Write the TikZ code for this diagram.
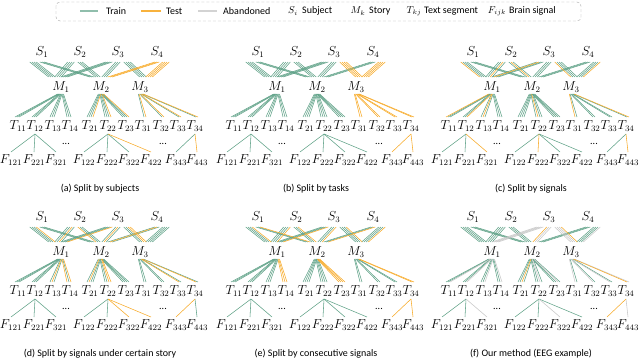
\documentclass[tikz,border=0pt]{standalone}
\usepackage{fix-cm}
\usepackage[no-math]{fontspec}
\setmainfont{Carlito}
\usetikzlibrary{calc,positioning}
\DeclareMathSizes{13}{13}{8.4}{6}
\DeclareMathSizes{10}{10}{6.6}{5}

\definecolor{traincol}{RGB}{96,162,136}
\definecolor{testcol}{RGB}{247,170,40}
\definecolor{gonecol}{RGB}{200,200,200}

\tikzset{
  lab/.style={inner sep=0pt, font=\fontsize{13}{14}\selectfont},
  leglab/.style={inner sep=0pt, anchor=west, font=\fontsize{10}{12}\selectfont},
  legmath/.style={inner sep=0pt, font=\fontsize{10}{12}\selectfont},
  captext/.style={font=\fontsize{10}{12}\selectfont},
  train/.style={draw=traincol, line width=0.55pt},
  test/.style={draw=testcol, line width=0.55pt},
  gone/.style={draw=gonecol, line width=0.55pt},
  legline/.style={line width=1.1pt},
}

% one panel: name, x shift, y shift, test rule, abandoned rule, caption
\newcommand{\drawpanel}[6]{%
\begin{scope}[shift={(#2,#3)}]
  \foreach \i/\x in {1/42,2/80,3/118,4/157}
    \node[lab] (#1s\i) at (\x,52) {$S_\i$};
  \foreach \k/\x in {1/61,2/101,3/140}
    \node[lab] (#1m\k) at (\x,87) {$M_\k$};
  \foreach \k/\j/\x in {1/1/18,1/2/35,1/3/53,1/4/70,2/1/90,2/2/108,2/3/126,3/1/143,3/2/161,3/3/178,3/4/195}
    \node[lab] (#1t\k\j) at (\x,126) {$T_{\k\j}$};
  \foreach \i/\j/\k/\x in {1/2/1/11,2/2/1/34,3/2/1/56,1/2/2/84,2/2/2/107,3/2/2/129,4/2/2/151,3/4/3/176,4/4/3/197}
    \node[lab] (#1f\i\j\k) at (\x,160) {$F_{\i\j\k}$};
  \node[captext] (#1d1) at (66,144) {...};
  \node[captext] (#1d2) at (163,144) {...};
  % green first, then grey, then orange on top
  \foreach \p in {0,1,2}
  \foreach \k/\n/\subs in {1/4/{1,2,3},2/3/{1,2,3,4},3/4/{3,4}}
  \foreach \i in \subs
  \foreach \j in {1,...,\n} {
    \pgfmathtruncatemacro\tst{#4}
    \pgfmathtruncatemacro\gon{#5}
    \pgfmathtruncatemacro\kind{max(2*\tst,\gon)}
    \ifnum\kind=\p
      \ifcase\kind \def\lc{train}\or\def\lc{gone}\or\def\lc{test}\fi
      \pgfmathsetmacro\sa{(\k-2)*9+(\j-(\n+1)/2)*2.2}
      \pgfmathsetmacro\mb{(\i-2.5)*6+(\j-(\n+1)/2)*2.2}
      \pgfmathsetmacro\mc{(\j-(\n+1)/2)*1.4+(\i-2.5)*0.8}
      \pgfmathsetmacro\td{(\i-2.5)*2}
      \draw[\lc] ($(#1s\i)+(\sa,10)$) -- ($(#1m\k)+(\mb,-10)$);
      \draw[\lc] ($(#1m\k)+(\mc,7)$) -- ($(#1t\k\j)+(\td,-9)$);
      \pgfmathtruncatemacro\shown{(\j==2&&\k<3)||(\k==3&&\j==4)}
      \ifnum\shown=1 \draw[\lc] ($(#1t\k\j)+(0,8)$) -- ($(#1f\i\j\k)+(0,-8)$); \fi
    \fi
  }
  \node[captext] (#1cap) at (100,189) {#6};
\end{scope}}

\begin{document}
\begin{tikzpicture}[x=1pt, y=-1pt]
  \useasboundingbox (0,0) rectangle (640,359);
  % legend
  \draw[gray!70, densely dashed, rounded corners=4pt, line width=0.4pt] (56,2) rectangle (581,21);
  \coordinate (ltr1) at (80,11);  \coordinate (ltr2) at (98,11);
  \coordinate (lte1) at (141,11); \coordinate (lte2) at (161,11);
  \coordinate (lab1) at (198,11); \coordinate (lab2) at (217,11);
  \draw[legline, draw=traincol!70] (ltr1) -- (ltr2);
  \draw[legline, draw=testcol!90] (lte1) -- (lte2);
  \draw[legline, draw=gonecol!80] (lab1) -- (lab2);
  \node[leglab] (ltrain) at (106,11) {Train};
  \node[leglab] (ltest) at (166,11) {Test};
  \node[leglab] (laband) at (223,11) {Abandoned};
  \node[legmath] (lsi) at (293,11) {$S_i$};
  \node[leglab] (lsubj) at (302,11) {Subject};
  \node[legmath] (lmk) at (358,11) {$M_k$};
  \node[leglab] (lstory) at (369,11) {Story};
  \node[legmath] (ltkj) at (414,11) {$T_{kj}$};
  \node[leglab] (ltext) at (424,11) {Text segment};
  \node[legmath] (lfijk) at (497,11) {$F_{ijk}$};
  \node[leglab] (lbrain) at (509,11) {Brain signal};

  % six panels
  \drawpanel{a}{0}{0}{\i==4}{0}{(a) Split by subjects}
  \drawpanel{b}{216}{0}{\k==3}{0}{(b) Split by tasks}
  \drawpanel{c}{431}{0}{(\i==1&&\k==1&&\j==1)||(\i==3&&\k==1&&\j==2)||(\i==2&&\k==1&&\j==3)||(\i==2&&\k==2&&\j==2)||(\i==3&&\k==3&&\j==1)||(\i==4&&\k==3&&\j==4)}{0}{(c) Split by signals}
  \drawpanel{d}{0}{165}{(\i==2&&\k==1&&\j==3)||(\i!=2&&\k==1&&\j==4)||(\i>=3&&\k==2&&\j==2)||(\i==2&&\k==2&&\j==1)||(\i==3&&\k==3&&\j>=3)}{0}{(d) Split by signals under certain story}
  \drawpanel{e}{216}{165}{\j==\n}{0}{(e) Split by consecutive signals}
  \drawpanel{f}{431}{165}{(\i==3&&\k==2&&\j==1)||(\i==3&&\k==3&&\j==4)}{(\i==3)||(\i==4&&\k==3&&\j==4)}{(f) Our method (EEG example)}
\end{tikzpicture}
\end{document}
